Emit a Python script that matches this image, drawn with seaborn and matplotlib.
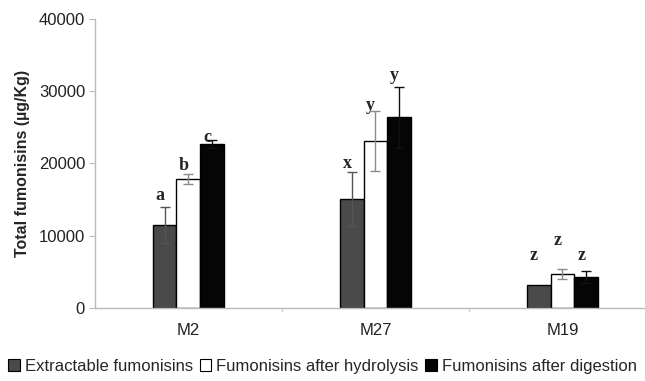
import numpy as np
import pandas as pd
import matplotlib
matplotlib.use('Agg')
import matplotlib.pyplot as plt
import seaborn as sns
from matplotlib.patches import Patch

# Values
samples = ['M2', 'M27', 'M19']
treatments = ['Extractable fumonisins', 'Fumonisins after hydrolysis', 'Fumonisins after digestion']
extractable = [11500, 15100, 3200]
hydrolysis = [17800, 23100, 4700]
digestion = [22700, 26400, 4300]
extractable_err = [2500, 3700, 0]
hydrolysis_err = [700, 4200, 700]
digestion_err = [500, 4200, 800]
letters_extractable = ['a', 'x', 'z']
letters_hydrolysis = ['b', 'y', 'z']
letters_digestion = ['c', 'y', 'z']
# heights (baseline) where the significance letters sit
letter_y_extractable = [14900, 19400, 6600]
letter_y_hydrolysis = [19100, 27400, 8700]
letter_y_digestion = [23000, 31600, 6600]

sns.set_style('white')
plt.rcParams['font.family'] = ['Liberation Sans', 'DejaVu Sans']

# long table for seaborn
rows = []
for vals, errs, lets, ly, t in zip([extractable, hydrolysis, digestion],
                                   [extractable_err, hydrolysis_err, digestion_err],
                                   [letters_extractable, letters_hydrolysis, letters_digestion],
                                   [letter_y_extractable, letter_y_hydrolysis, letter_y_digestion],
                                   treatments):
    for s, v, e, l, y in zip(samples, vals, errs, lets, ly):
        rows.append({'Sample': s, 'Treatment': t, 'Value': v, 'Err': e, 'Letter': l, 'LetterY': y})
df = pd.DataFrame(rows)

colors = ['#4a4a4a', '#ffffff', '#050505']
err_colors = ['#555555', '#8a8a8a', '#111111']

fig = plt.figure(figsize=(6.45, 3.81), dpi=100)
ax = fig.add_axes([0.147, 0.192, 0.87, 0.758])

sns.barplot(data=df, x='Sample', y='Value', hue='Treatment', hue_order=treatments,
            order=samples, palette=colors, width=0.38, edgecolor='black',
            linewidth=1.0, errorbar=None, legend=False, ax=ax)

# error bars and significance letters on top of each bar
for i, t in enumerate(treatments):
    sub = df[df['Treatment'] == t].set_index('Sample').loc[samples]
    bars = ax.containers[i]
    for bar, (_, r) in zip(bars, sub.iterrows()):
        xc = bar.get_x() + bar.get_width() / 2
        h = bar.get_height()
        if r['Err'] > 0:
            ax.errorbar(xc, h, yerr=r['Err'], color=err_colors[i], capsize=3.5,
                        elinewidth=1.0, capthick=1.0, zorder=5)
        ax.text(xc - 0.025, r['LetterY'], r['Letter'], ha='center', va='baseline',
                fontsize=13, fontweight='bold', family='Liberation Serif')

ax.set_ylim(0, 40000)
ax.set_xlim(-0.5, 2.5)
ax.set_yticks([0, 10000, 20000, 30000, 40000])
ax.set_yticklabels(['0', '10000', '20000', '30000', '40000'], fontsize=12, color='#222222')
ax.set_xticks([0, 1, 2])
ax.set_xticklabels(samples, fontsize=12, color='#222222')
ax.tick_params(axis='x', length=0, pad=11)
ax.tick_params(axis='y', length=4, color='#bbbbbb', left=True, pad=3)
ax.set_xlabel('')
ax.set_ylabel('Total fumonisins (µg/Kg)', fontsize=11.5, fontweight='bold', labelpad=6)

for b in [0.5, 1.5]:
    ax.plot([b, b], [0, -400], color='#cccccc', lw=1, clip_on=False)

for side in ['top', 'right']:
    ax.spines[side].set_visible(False)
for side in ['left', 'bottom']:
    ax.spines[side].set_color('#bbbbbb')
    ax.spines[side].set_linewidth(1.0)

handles = [Patch(facecolor=c, edgecolor='black', linewidth=0.8) for c in colors]
fig.legend(handles, treatments, loc='center', bbox_to_anchor=(0.5, 0.038), ncol=3,
           frameon=False, fontsize=12, handlelength=0.7, handleheight=0.7,
           handletextpad=0.3, columnspacing=0.4, borderaxespad=0)

fig.savefig('out.png', dpi=100)
